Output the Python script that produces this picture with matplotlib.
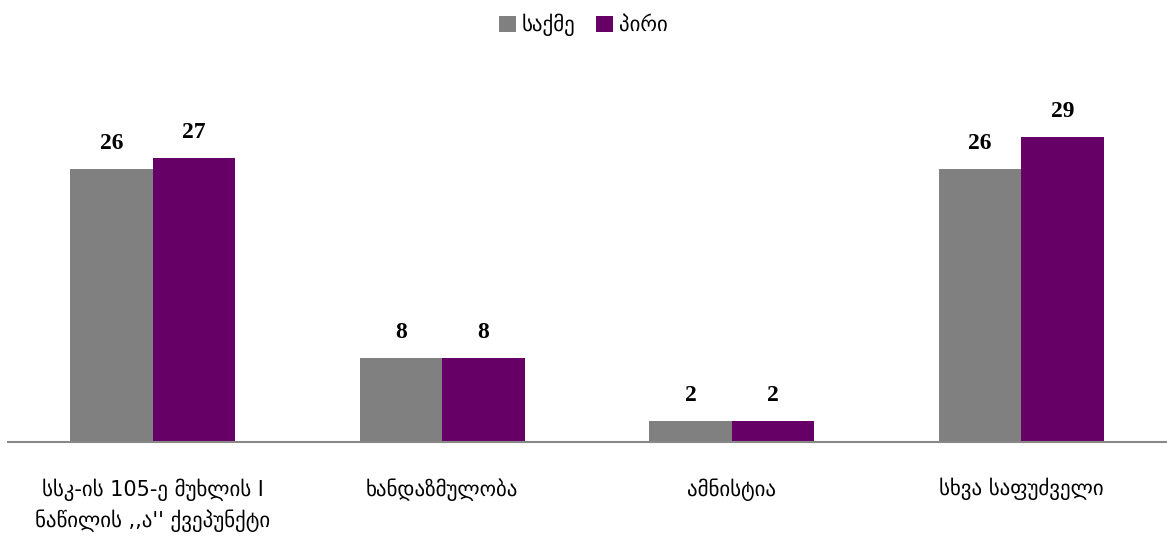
import numpy as np
import matplotlib
matplotlib.use('Agg')
import matplotlib.pyplot as plt

plt.rcParams['font.family'] = ['DejaVu Sans']

categories = ["სსკ-ის 105-ე მუხლის I\nნაწილის ,,ა'' ქვეპუნქტი",
              "ხანდაზმულობა", "ამნისტია", "სხვა საფუძველი"]
series_names = ["საქმე", "პირი"]
cases = [26, 8, 2, 26]
persons = [27, 8, 2, 29]
colors = ["#808080", "#660066"]

fig = plt.figure(figsize=(11.67, 5.39), dpi=100)
ax = fig.add_axes([8 / 1167, 97 / 539, 1158 / 1167, 368 / 539])

x = np.arange(len(categories))
w = 0.285
b1 = ax.bar(x - w / 2, cases, w, color=colors[0], label=series_names[0])
b2 = ax.bar(x + w / 2, persons, w, color=colors[1], label=series_names[1])

for bars in (b1, b2):
    for r in bars:
        ax.text(r.get_x() + r.get_width() / 2, r.get_height() + 1.4, str(int(r.get_height())),
                ha='center', va='bottom', fontsize=17, fontweight='bold',
                family='Liberation Serif')

ax.set_xlim(-0.5, 3.5)
ax.set_ylim(0, 35)
ax.set_xticks(x)
ax.set_xticklabels(categories, fontsize=15, linespacing=1.5)
ax.tick_params(axis='x', length=0, pad=26)
ax.set_yticks([])
for s in ['top', 'right', 'left']:
    ax.spines[s].set_visible(False)
ax.spines['bottom'].set_color('#888888')
ax.spines['bottom'].set_linewidth(1.5)

fig.legend(loc='upper center', bbox_to_anchor=(0.5, 1.01), ncol=2, frameon=False,
           fontsize=15, handlelength=0.8, handleheight=0.8, handletextpad=0.3,
           columnspacing=1.0)

fig.savefig("out.png", dpi=100)
